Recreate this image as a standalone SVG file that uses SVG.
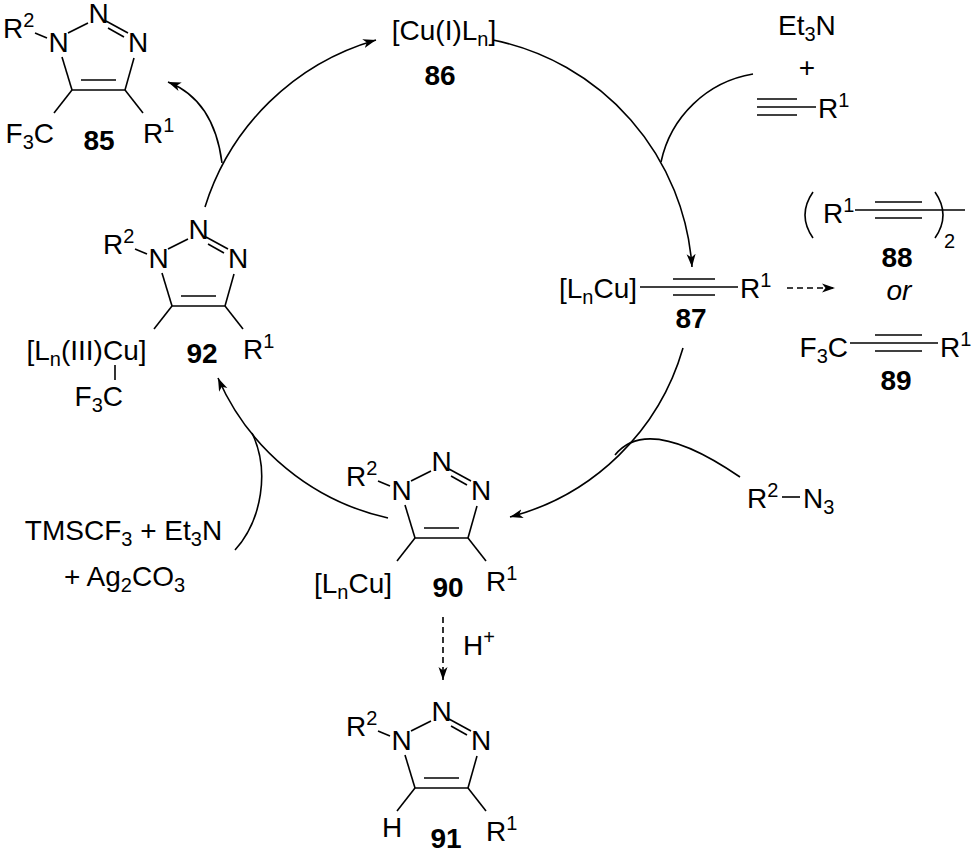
<svg xmlns="http://www.w3.org/2000/svg" width="979" height="853" viewBox="0 0 979 853">
<defs>
<style>
text{font-family:"Liberation Sans",Arial,Helvetica,sans-serif;font-size:28px;fill:#000}
.s{font-size:20px}
.b{font-weight:bold}
.i{font-style:italic}
.m{text-anchor:middle}
.e{text-anchor:end}
line,path{stroke:#000;stroke-width:1.6;fill:none}
.d{stroke-dasharray:6,4}
</style>
<marker id="ah" markerUnits="userSpaceOnUse" markerWidth="14" markerHeight="10" viewBox="-13 -5 14 10" refX="0" refY="0" orient="auto">
<path d="M0,0 L-13,-4.5 L-9.5,0 L-13,4.5 Z" style="fill:#000;stroke:none"/>
</marker>
<g id="ring">
<line x1="35" y1="33" x2="47" y2="38"/>
<line x1="68" y1="33" x2="88" y2="23"/>
<line x1="106" y1="21" x2="128" y2="33"/>
<line x1="108" y1="28" x2="124" y2="37"/>
<line x1="134" y1="58" x2="125" y2="90"/>
<line x1="62" y1="57" x2="72" y2="90"/>
<line x1="72" y1="90" x2="125" y2="90"/>
<line x1="81" y1="80" x2="116" y2="80"/>
<line x1="125" y1="90" x2="143" y2="113"/>
<line x1="72" y1="90" x2="54" y2="113"/>
<text x="3" y="38">R<tspan class="s" dy="-11">2</tspan></text>
<text class="m" x="58.5" y="52">N</text>
<text class="m" x="98.5" y="23">N</text>
<text class="m" x="138" y="52">N</text>
<text x="143" y="143">R<tspan class="s" dy="-11">1</tspan></text>
</g>
</defs>

<g id="connectors">
<path d="M205,207 A252,252 0 0 1 376,40" marker-end="url(#ah)"/>
<path d="M222,163 Q214,100 168,82" marker-end="url(#ah)"/>
<path d="M493,40 A249,249 0 0 1 692,267" marker-end="url(#ah)"/>
<path d="M661,162 A113,113 0 0 1 753,74"/>
<path d="M683,348 A245,245 0 0 1 510,517" marker-end="url(#ah)"/>
<path d="M740,477 Q648,414 615,455"/>
<path d="M388,518 A243,243 0 0 1 218,378" marker-end="url(#ah)"/>
<path d="M235,550 C262,520 270,470 252,433"/>
<line class="d" x1="787" y1="288" x2="835" y2="288" marker-end="url(#ah)"/>
<line class="d" x1="443" y1="617" x2="443" y2="680" marker-end="url(#ah)"/>
</g>

<g id="n85">
<use href="#ring"/>
<text class="e" x="54" y="143">F<tspan class="s" dy="6">3</tspan><tspan dy="-6">C</tspan></text>
<text class="b m" x="99" y="150">85</text>
</g>

<g id="n86">
<text class="m" x="444" y="40">[Cu(I)L<tspan class="s" dy="6">n</tspan><tspan dy="-6">]</tspan></text>
<text class="b m" x="440" y="85">86</text>
</g>

<g id="reagent-alkyne">
<text x="778" y="35">Et<tspan class="s" dy="6">3</tspan><tspan dy="-6">N</tspan></text>
<text class="m" x="807" y="77">+</text>
<line x1="757" y1="99" x2="797" y2="99"/>
<line x1="757" y1="107" x2="816" y2="107"/>
<line x1="757" y1="115" x2="797" y2="115"/>
<text x="818" y="118">R<tspan class="s" dy="-11">1</tspan></text>
</g>

<g id="n87">
<text class="e" x="637" y="298">[L<tspan class="s" dy="6">n</tspan><tspan dy="-6">Cu]</tspan></text>
<line x1="640" y1="287" x2="738" y2="287"/>
<line x1="673" y1="279" x2="715" y2="279"/>
<line x1="673" y1="295" x2="715" y2="295"/>
<text x="740" y="298">R<tspan class="s" dy="-11">1</tspan></text>
<text class="b m" x="691" y="328">87</text>
</g>

<g id="n88">
<path d="M813,192 Q797,215 813,238"/>
<text x="823" y="223">R<tspan class="s" dy="-11">1</tspan></text>
<line x1="855" y1="210" x2="965" y2="210"/>
<line x1="875" y1="202" x2="922" y2="202"/>
<line x1="875" y1="218" x2="922" y2="218"/>
<path d="M935,192 Q951,215 935,238"/>
<text class="s" x="944" y="248">2</text>
<text class="b m" x="897" y="267">88</text>
<text class="i m" x="899" y="300">or</text>
</g>

<g id="n89">
<text class="e" x="848" y="357">F<tspan class="s" dy="6">3</tspan><tspan dy="-6">C</tspan></text>
<line x1="850" y1="343" x2="938" y2="343"/>
<line x1="875" y1="335" x2="922" y2="335"/>
<line x1="875" y1="351" x2="922" y2="351"/>
<text x="940" y="357">R<tspan class="s" dy="-11">1</tspan></text>
<text class="b m" x="896" y="390">89</text>
</g>

<g id="reagent-azide">
<text x="747" y="508">R<tspan class="s" dy="-11">2</tspan></text>
<line x1="782" y1="497" x2="800" y2="497"/>
<text x="803" y="508">N<tspan class="s" dy="6">3</tspan></text>
</g>

<g id="n90">
<use href="#ring" transform="translate(343,448)"/>
<text class="e" x="392" y="593">[L<tspan class="s" dy="6">n</tspan><tspan dy="-6">Cu]</tspan></text>
<text class="b m" x="448" y="597">90</text>
</g>

<g id="n91">
<use href="#ring" transform="translate(343,698)"/>
<text x="382" y="837">H</text>
<text class="b m" x="446" y="848">91</text>
<text x="463" y="655">H<tspan class="s" dy="-11">+</tspan></text>
</g>

<g id="n92">
<use href="#ring" transform="translate(100,216)"/>
<text class="m" x="86.5" y="360">[L<tspan class="s" dy="6">n</tspan><tspan dy="-6">(III)Cu]</tspan></text>
<line x1="115" y1="365" x2="115" y2="380"/>
<text class="e" x="123" y="406">F<tspan class="s" dy="6">3</tspan><tspan dy="-6">C</tspan></text>
<text class="b m" x="202" y="363">92</text>
</g>

<g id="reagent-cf3">
<text class="m" x="123.5" y="540">TMSCF<tspan class="s" dy="6">3</tspan><tspan dy="-6"> + Et</tspan><tspan class="s" dy="6">3</tspan><tspan dy="-6">N</tspan></text>
<text class="m" x="124.5" y="586">+ Ag<tspan class="s" dy="6">2</tspan><tspan dy="-6">CO</tspan><tspan class="s" dy="6">3</tspan></text>
</g>
</svg>
